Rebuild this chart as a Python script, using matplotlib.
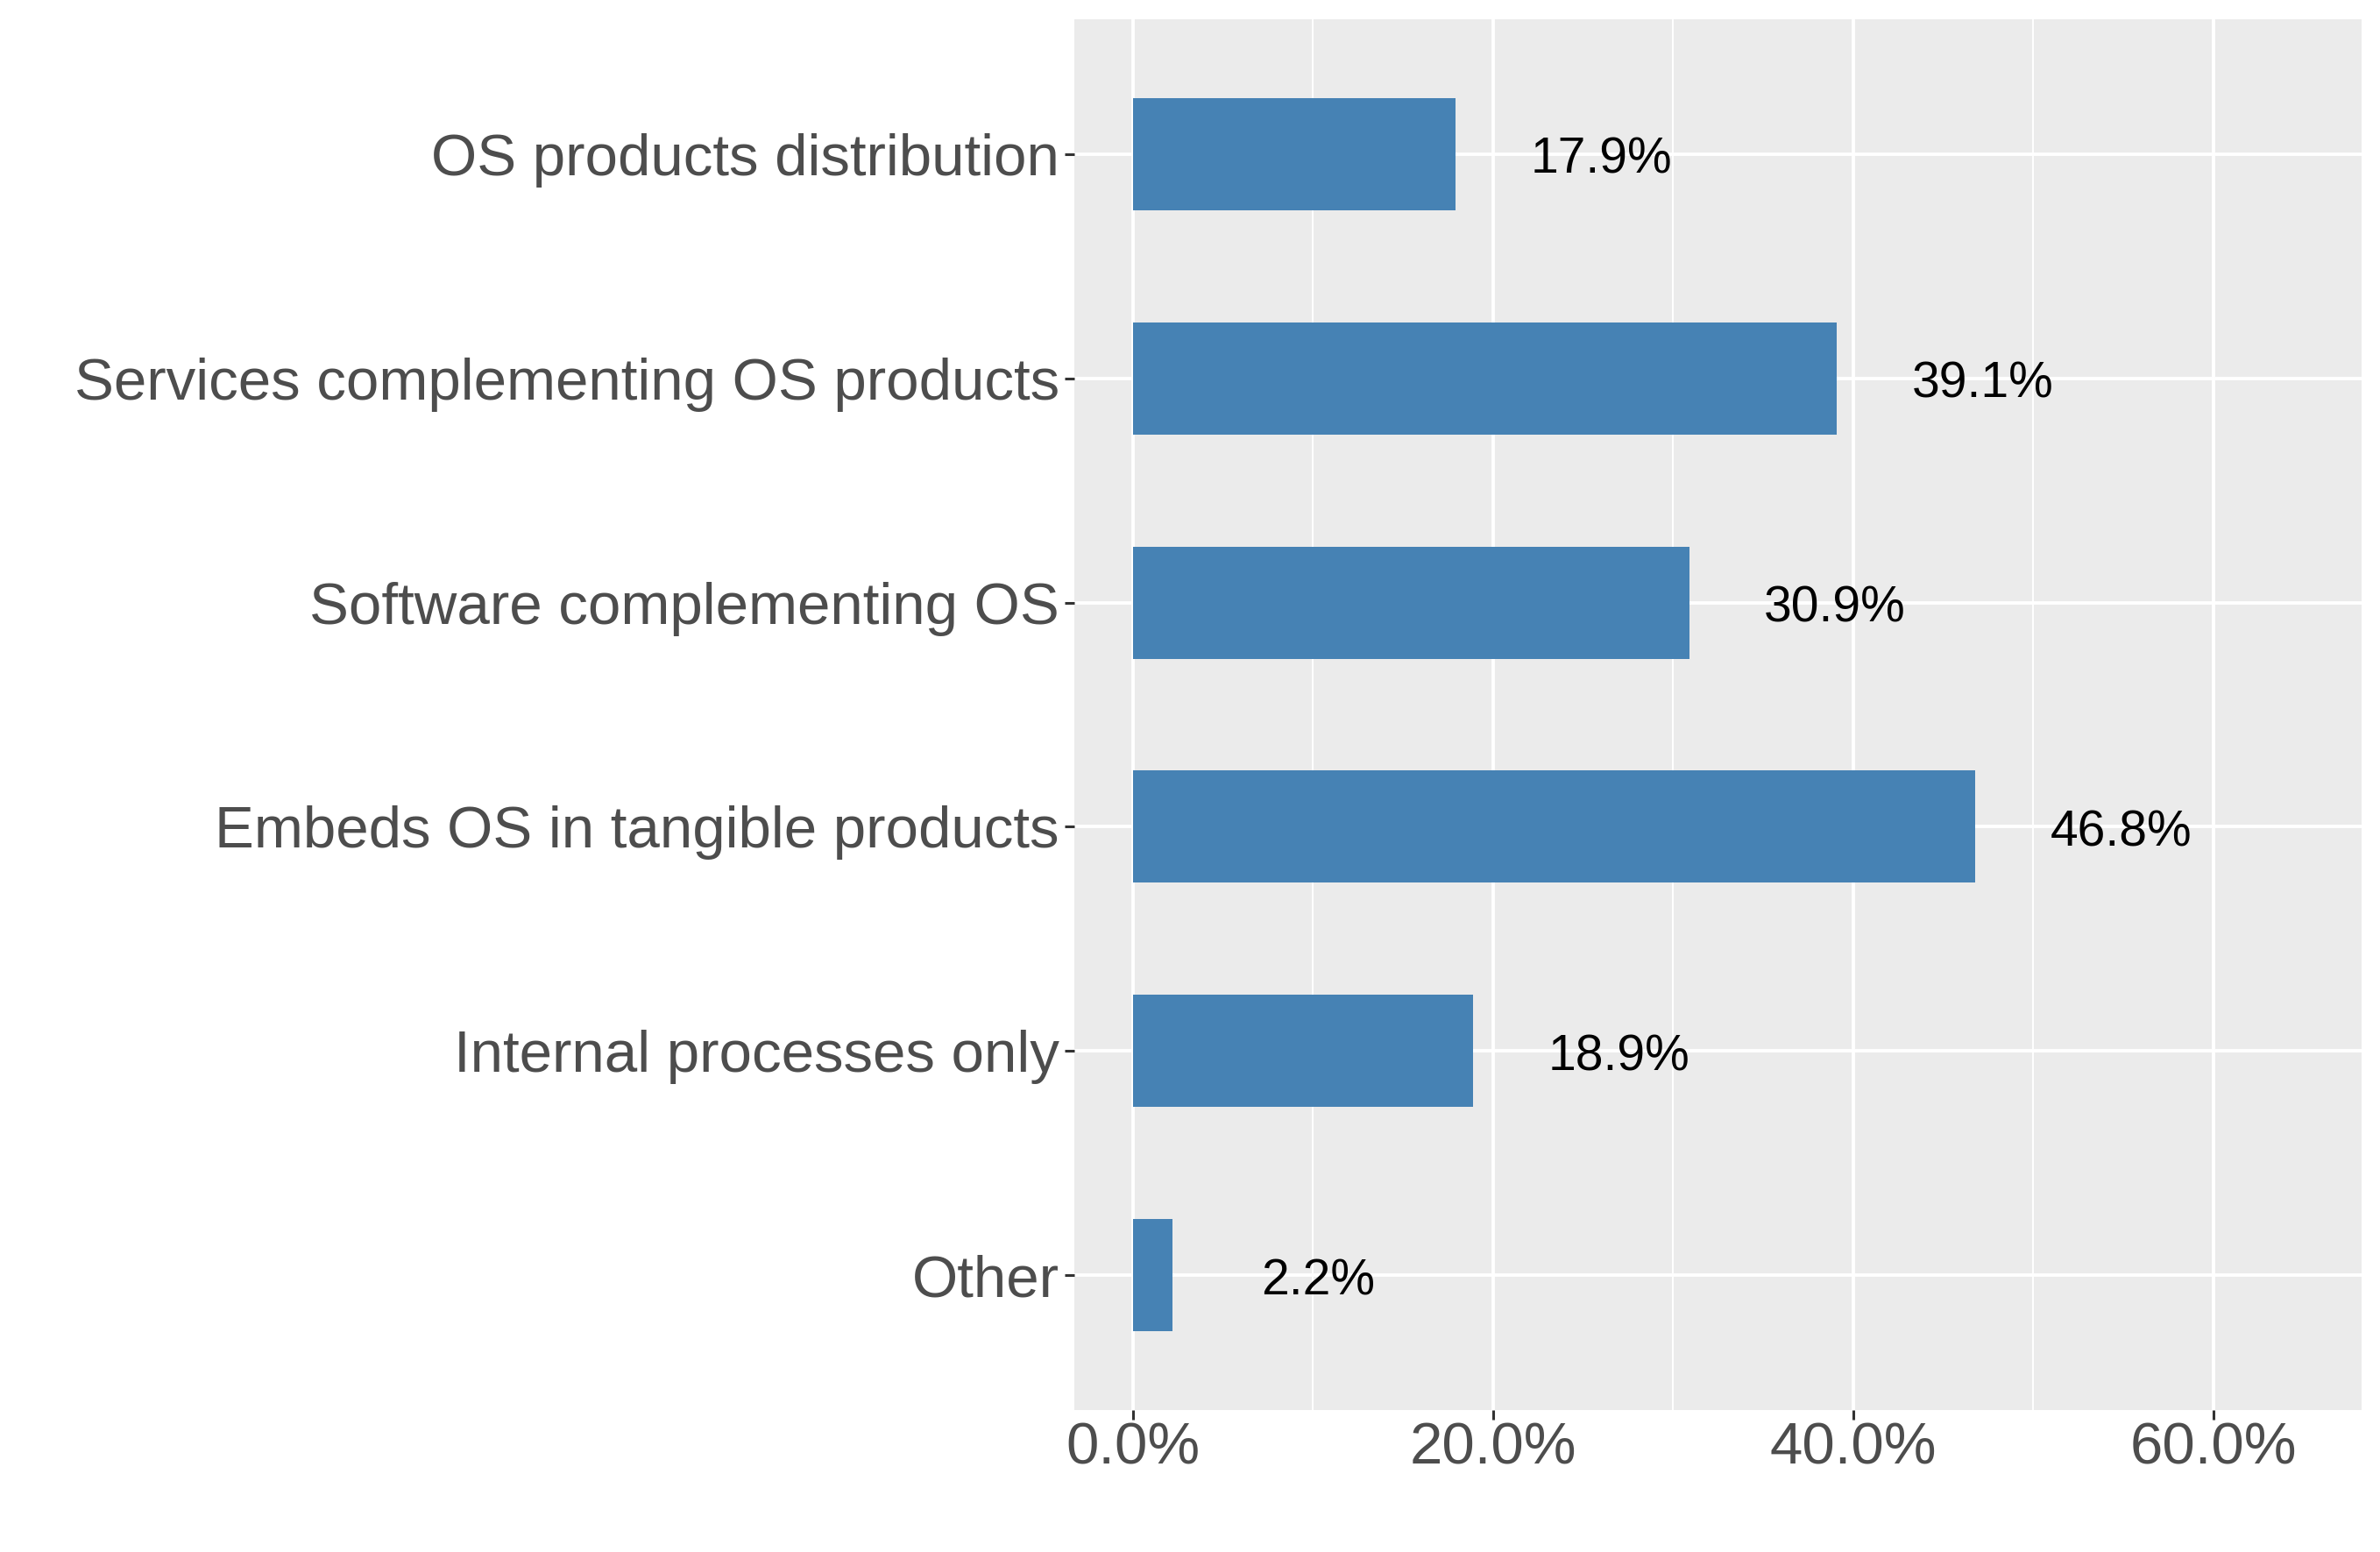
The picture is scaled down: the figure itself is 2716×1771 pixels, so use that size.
import matplotlib
matplotlib.use("Agg")
import matplotlib.pyplot as plt
from matplotlib.ticker import FixedLocator

categories = ["OS products distribution",
              "Services complementing OS products",
              "Software complementing OS",
              "Embeds OS in tangible products",
              "Internal processes only",
              "Other"]
values = [17.9, 39.1, 30.9, 46.8, 18.9, 2.2]
labels = ["17.9%", "39.1%", "30.9%", "46.8%", "18.9%", "2.2%"]
xticks = [0, 20, 40, 60]
xticklabels = ["0.0%", "20.0%", "40.0%", "60.0%"]

plt.rcParams['font.family'] = ['Liberation Sans', 'DejaVu Sans']

fig = plt.figure(figsize=(13.58, 8.855), dpi=200)
ax = fig.add_axes([0.4514, 0.09147, 0.9923 - 0.4514, 0.98758 - 0.09147])
ax.set_facecolor("#EBEBEB")

n = len(categories)
ypos = [n - i for i in range(n)]

ax.barh(ypos, values, height=0.5, color="#4682B4", zorder=3)
for y, v, lab in zip(ypos, values, labels):
    ax.annotate(lab, xy=(v + 8.1, y), xytext=(0, -2.5), textcoords="offset points",
                ha="center", va="center", fontsize=20.5, color="black", zorder=4)

ax.set_xlim(-3.25, 68.25)
ax.set_ylim(0.4, n + 0.6)
ax.set_xticks(xticks)
ax.set_xticklabels(xticklabels)
ax.xaxis.set_minor_locator(FixedLocator([10, 30, 50]))
ax.set_yticks(ypos)
ax.set_yticklabels(categories)

ax.grid(which="major", color="white", linewidth=1.4, zorder=1)
ax.grid(which="minor", axis="x", color="white", linewidth=0.7, zorder=1)
ax.set_axisbelow(True)

for s in ax.spines.values():
    s.set_visible(False)

ax.tick_params(axis="both", which="major", length=4, width=1.1, color="#333333",
               labelcolor="#4D4D4D", labelsize=24.2)
ax.tick_params(axis="x", which="major", pad=1)
ax.tick_params(axis="y", which="major", pad=2.2)
ax.tick_params(axis="x", which="minor", length=0)

fig.savefig("out.png", dpi=200)
